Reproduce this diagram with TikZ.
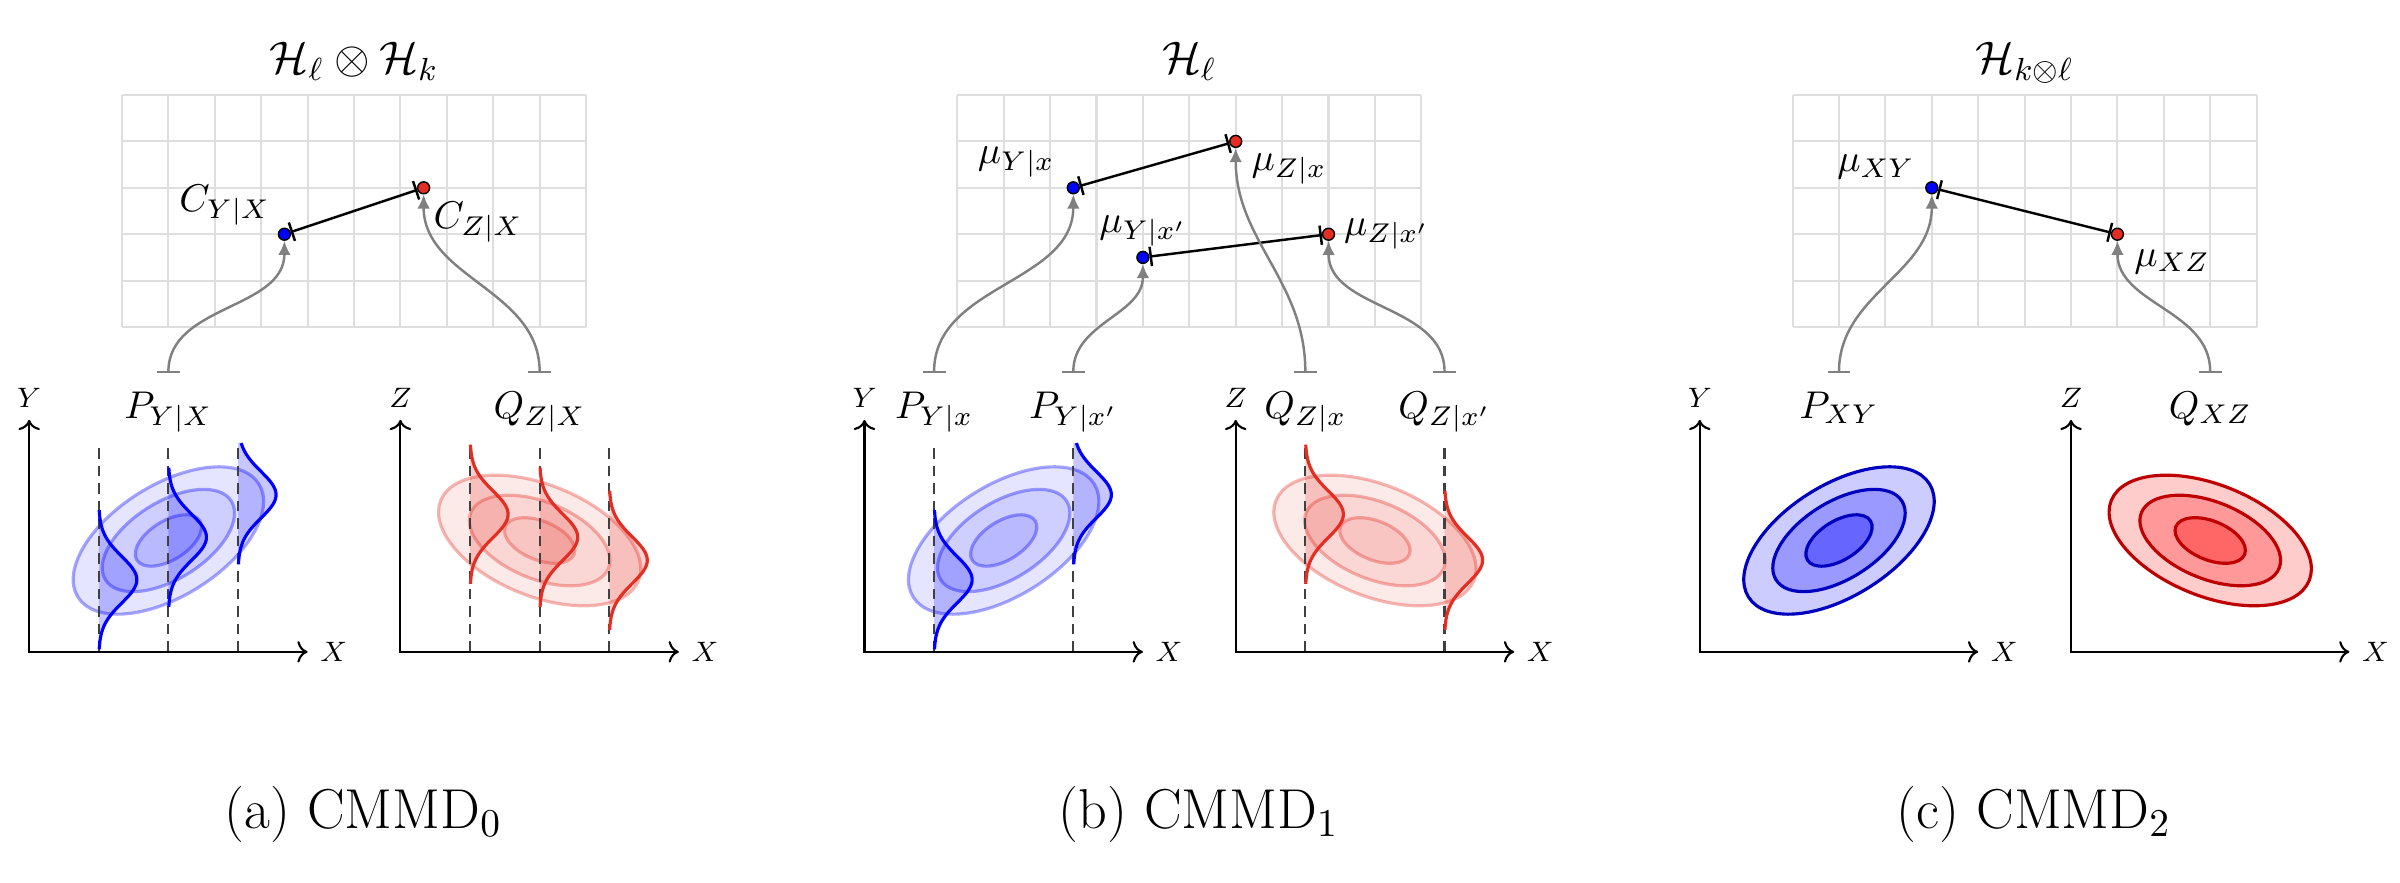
\documentclass[tikz,border=0pt]{standalone}
\usepackage{fix-cm}
\usetikzlibrary{arrows.meta,positioning}

\definecolor{mmdred}{RGB}{228,45,35}
\definecolor{cellgray}{RGB}{222,222,222}

\tikzset{
  hgrid/.style={cellgray,line width=0.6pt,step=1},
  bluedot/.style={circle,draw=black,line width=0.4pt,fill=blue,inner sep=0pt,minimum size=3.4pt},
  reddot/.style={bluedot,fill=mmdred},
  mmdline/.style={black,line width=0.7pt,{Bar[width=5.5pt]}-{Bar[width=5.5pt]}},
  embed/.style={gray,line width=0.7pt,{Bar[width=6.5pt]}-{Latex[length=4pt,width=3.6pt]}},
  lab/.style={font=\fontsize{11}{13}\selectfont,inner sep=1pt},
  rkhs/.style={font=\fontsize{13}{15}\selectfont,anchor=base},
  axlab/.style={font=\fontsize{8}{10}\selectfont},
  axisline/.style={black,line width=0.6pt,<->},
  guide/.style={black!75,line width=0.6pt,dash pattern=on 3pt off 2pt},
  subcap/.style={font=\fontsize{16}{19}\selectfont,anchor=base},
}

% translucent joint density with conditional slices
% #1 colour, #2 tilt, #3 slope of the conditional mean, #4 slice positions
\newcommand{\condplot}[4]{%
  \begin{scope}[shift={(3,2.4)},rotate=#2]
    \foreach \ea/\eb in {2.3/1.2,1.6/0.83,0.8/0.42}
      \draw[draw=#1,draw opacity=0.35,fill=#1,fill opacity=0.1,line width=0.9pt]
        (0,0) ellipse [x radius=\ea,y radius=\eb];
  \end{scope}
  \foreach \gx in {#4}{
    \pgfmathsetmacro\gm{2.47+#3*(\gx-3)}
    \pgfmathsetmacro\glo{max(0,\gm-1.5)}
    \pgfmathsetmacro\ghi{min(4.5,\gm+1.5)}
    \fill[#1,fill opacity=0.22] (\gx,\glo)
      -- plot[domain=\glo:\ghi,samples=60] ({\gx+0.82*exp(-((\x-\gm)^2)/0.5)},\x)
      -- (\gx,\ghi) -- cycle;
    \draw[guide] (\gx,0) -- (\gx,4.4);
    \draw[#1,line width=0.9pt]
      plot[domain=\glo:\ghi,samples=60] ({\gx+0.82*exp(-((\x-\gm)^2)/0.5)},\x);
  }
}

\begin{document}
\begin{tikzpicture}[x=0.464cm,y=0.464cm]
\useasboundingbox (-2.629,-11.96) rectangle (49.09,7.047);

%% (a) CMMD_0
\begin{scope}
  \draw[hgrid] (0,0) grid (10,5);
  \node[rkhs] (atitle) at (5,5.47) {$\mathcal{H}_\ell \otimes \mathcal{H}_k$};
  \node[bluedot] (acy) at (3.5,2) {};
  \node[reddot]  (acz) at (6.5,3) {};
  \node[lab,above left=0pt and 1.5pt of acy] (acylab) {$C_{Y|X}$};
  \node[lab,below right=1.5pt and 0.3pt of acz] (aczlab) {$C_{Z|X}$};
  \draw[mmdline] (acy) -- (acz);
  \coordinate (apy) at (1,-1);
  \coordinate (aqz) at (9,-1);
  \node[lab,below=4pt of apy] (apylab) {$P_{Y|X}$};
  \node[lab,below=4pt of aqz] (aqzlab) {$Q_{Z|X}$};
  \draw[embed] (apy) to[out=90,in=-90] (acy);
  \draw[embed] (aqz) to[out=90,in=-90] (acz);
  \begin{scope}[shift={(-2,-7)}]
    \condplot{blue}{32}{0.61}{1.5,3,4.5}
    \draw[axisline] (0,5) node[above,axlab] (aylab) {$Y$} -- (0,0) -- (6,0) node[right,axlab] (axlab) {$X$};
  \end{scope}
  \begin{scope}[shift={(6,-7)}]
    \condplot{mmdred}{-22}{-0.33}{1.5,3,4.5}
    \draw[axisline] (0,5) node[above,axlab] (azlab) {$Z$} -- (0,0) -- (6,0) node[right,axlab] (axlab2) {$X$};
  \end{scope}
  \node[subcap] (acap) at (5.2,-10.8) {(a) CMMD$_0$};
\end{scope}

%% (b) CMMD_1
\begin{scope}[shift={(18,0)}]
  \draw[hgrid] (0,0) grid (10,5);
  \node[rkhs] (btitle) at (5,5.47) {$\mathcal{H}_\ell$};
  \node[bluedot] (bmyx)  at (2.5,3) {};
  \node[reddot]  (bmzx)  at (6,4)   {};
  \node[bluedot] (bmyxp) at (4,1.5) {};
  \node[reddot]  (bmzxp) at (8,2)   {};
  \node[lab,above left=0.5pt and 2.8pt of bmyx] (bmyxlab) {$\mu_{Y|x}$};
  \node[lab,below right=1pt and 2pt of bmzx] (bmzxlab) {$\mu_{Z|x}$};
  \node[lab,above=0pt of bmyxp] (bmyxplab) {$\mu_{Y|x'}$};
  \node[lab,right=1.3pt of bmzxp] (bmzxplab) {$\mu_{Z|x'}$};
  \draw[mmdline] (bmyx) -- (bmzx);
  \draw[mmdline] (bmyxp) -- (bmzxp);
  \coordinate (bpyx)  at (-0.5,-1);
  \coordinate (bpyxp) at (2.5,-1);
  \coordinate (bqzx)  at (7.5,-1);
  \coordinate (bqzxp) at (10.5,-1);
  \node[lab,below=4pt of bpyx]  (bpyxlab)  {$P_{Y|x}$};
  \node[lab,below=4pt of bpyxp] (bpyxplab) {$P_{Y|x'}$};
  \node[lab,below=4pt of bqzx]  (bqzxlab)  {$Q_{Z|x}$};
  \node[lab,below=4pt of bqzxp] (bqzxplab) {$Q_{Z|x'}$};
  \draw[embed] (bpyx)  to[out=90,in=-90] (bmyx);
  \draw[embed] (bpyxp) to[out=90,in=-90] (bmyxp);
  \draw[embed] (bqzx)  to[out=90,in=-90] (bmzx);
  \draw[embed] (bqzxp) to[out=90,in=-90] (bmzxp);
  \begin{scope}[shift={(-2,-7)}]
    \condplot{blue}{32}{0.61}{1.5,4.5}
    \draw[axisline] (0,5) node[above,axlab] (bylab) {$Y$} -- (0,0) -- (6,0) node[right,axlab] (bxlab) {$X$};
  \end{scope}
  \begin{scope}[shift={(6,-7)}]
    \condplot{mmdred}{-22}{-0.33}{1.5,4.5}
    \draw[axisline] (0,5) node[above,axlab] (bzlab) {$Z$} -- (0,0) -- (6,0) node[right,axlab] (bxlab2) {$X$};
  \end{scope}
  \node[subcap] (bcap) at (5.2,-10.8) {(b) CMMD$_1$};
\end{scope}

%% (c) CMMD_2
\begin{scope}[shift={(36,0)}]
  \draw[hgrid] (0,0) grid (10,5);
  \node[rkhs] (ctitle) at (5,5.47) {$\mathcal{H}_{k\otimes\ell}$};
  \node[bluedot] (cmxy) at (3,3) {};
  \node[reddot]  (cmxz) at (7,2) {};
  \node[lab,above left=0pt and 2.3pt of cmxy] (cmxylab) {$\mu_{XY}$};
  \node[lab,below right=1.8pt and 2.3pt of cmxz] (cmxzlab) {$\mu_{XZ}$};
  \draw[mmdline] (cmxy) -- (cmxz);
  \coordinate (cpxy) at (1,-1);
  \coordinate (cqxz) at (9,-1);
  \node[lab,below=4pt of cpxy] (cpxylab) {$P_{XY}$};
  \node[lab,below=4pt of cqxz] (cqxzlab) {$Q_{XZ}$};
  \draw[embed] (cpxy) to[out=90,in=-90] (cmxy);
  \draw[embed] (cqxz) to[out=90,in=-90] (cmxz);
  \begin{scope}[shift={(-2,-7)}]
    \begin{scope}[shift={(3,2.4)},rotate=32]
      \foreach \ea/\eb/\sh in {2.3/1.2/20,1.6/0.83/40,0.8/0.42/60}
        \draw[blue!75!black,line width=0.9pt,fill=blue!\sh] (0,0) ellipse [x radius=\ea,y radius=\eb];
    \end{scope}
    \draw[axisline] (0,5) node[above,axlab] (cylab) {$Y$} -- (0,0) -- (6,0) node[right,axlab] (cxlab) {$X$};
  \end{scope}
  \begin{scope}[shift={(6,-7)}]
    \begin{scope}[shift={(3,2.4)},rotate=-22]
      \foreach \ea/\eb/\sh in {2.3/1.2/20,1.6/0.83/40,0.8/0.42/60}
        \draw[red!75!black,line width=0.9pt,fill=red!\sh] (0,0) ellipse [x radius=\ea,y radius=\eb];
    \end{scope}
    \draw[axisline] (0,5) node[above,axlab] (czlab) {$Z$} -- (0,0) -- (6,0) node[right,axlab] (cxlab2) {$X$};
  \end{scope}
  \node[subcap] (ccap) at (5.2,-10.8) {(c) CMMD$_2$};
\end{scope}
\end{tikzpicture}
\end{document}
